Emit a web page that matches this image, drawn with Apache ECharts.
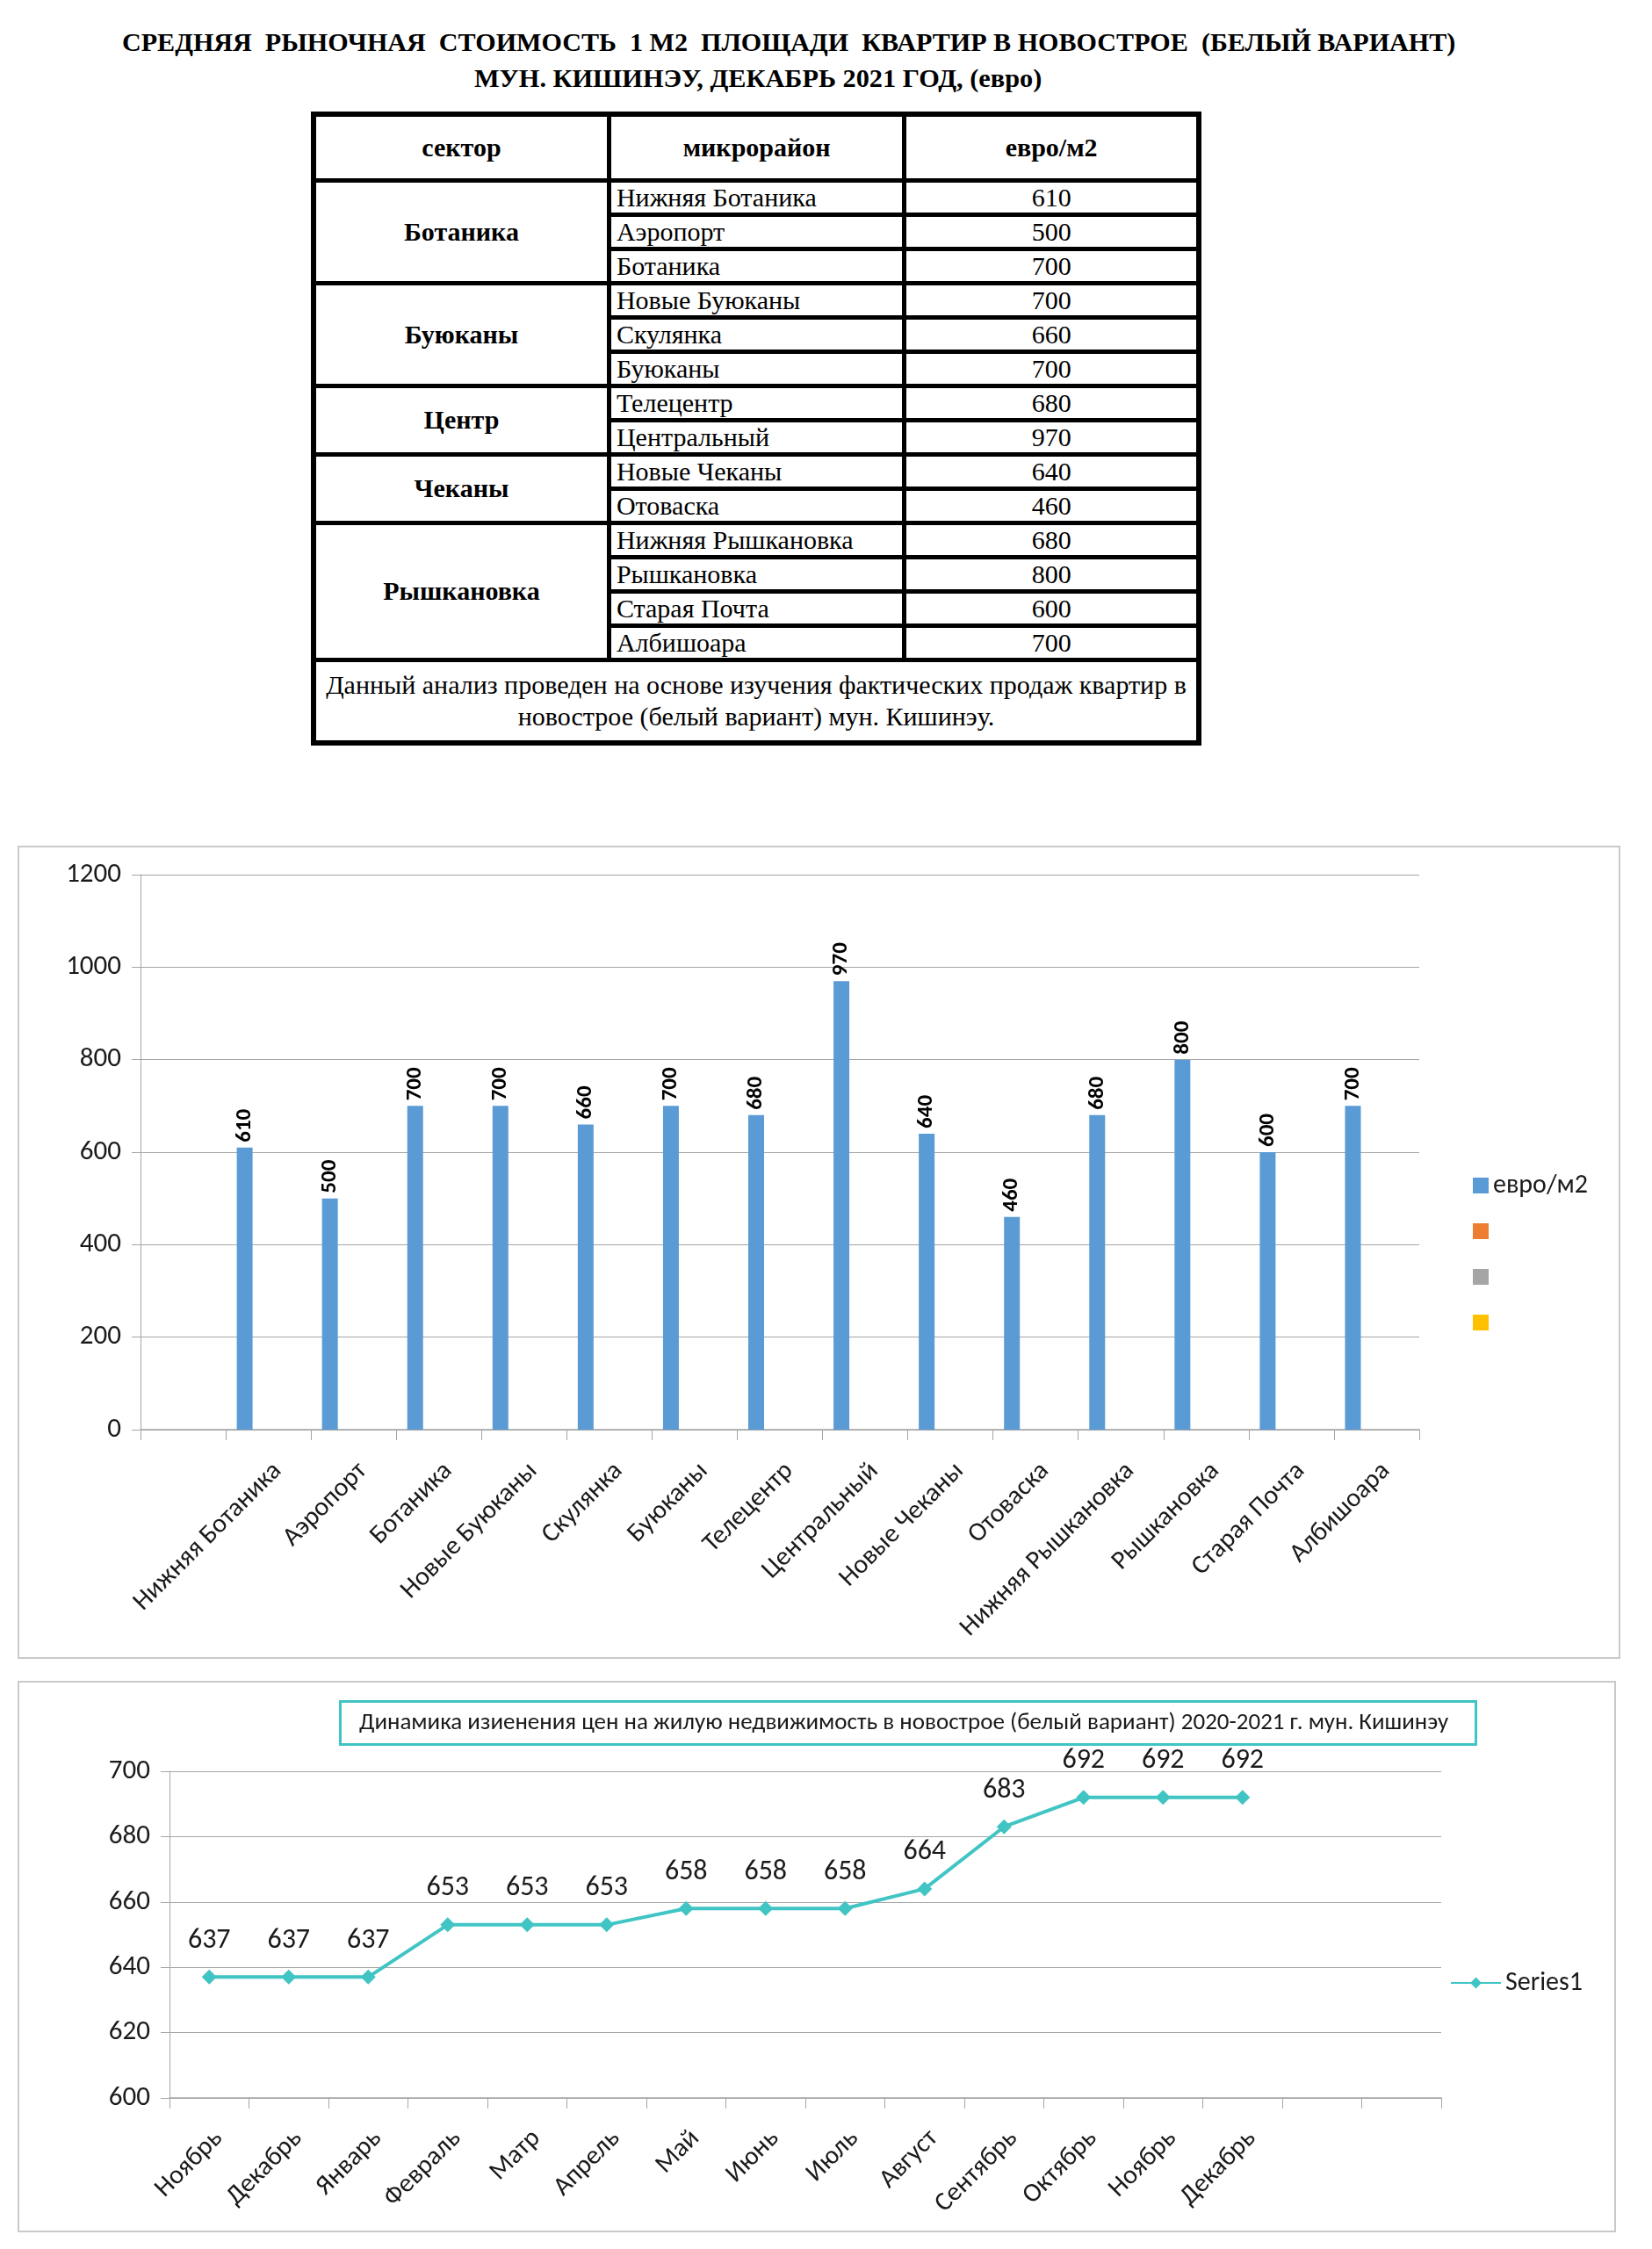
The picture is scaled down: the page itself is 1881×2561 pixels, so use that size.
<!DOCTYPE html>
<html><head><meta charset="utf-8">
<script src="https://cdn.jsdelivr.net/npm/echarts@6/dist/echarts.min.js"></script>
<style>
html,body{margin:0;padding:0;background:#fff;}
body{width:1881px;height:2561px;position:relative;overflow:hidden;}
.ttl{position:absolute;font-family:'Liberation Serif','DejaVu Serif',serif;font-weight:bold;font-size:30.3px;white-space:pre;color:#000;line-height:34px;}
#t1{left:139px;top:31px;font-size:30.1px;}
#t2{left:540px;top:72px;}
#tbl{position:absolute;left:354px;top:127px;width:1014px;border-collapse:collapse;font-family:'Liberation Serif','DejaVu Serif',serif;font-size:30px;color:#000;border:6px solid #000;}
#tbl td{border:5px solid #000;padding:0 6px;line-height:30px;}
#tbl td.c{text-align:center;}
#tbl td.b{font-weight:bold;text-align:center;}
#tbl td.l{text-align:left;}
#tbl td.n{text-align:center;line-height:36px;}
.chart{position:absolute;border:2px solid #C9C9C9;box-sizing:border-box;}
#bar{left:20px;top:963px;width:1825px;height:926px;}
#line{left:20px;top:1914px;width:1820px;height:628px;}
</style>
</head><body>
<div class="ttl" id="t1"></div>
<div class="ttl" id="t2"></div>
<table id="tbl"></table>
<div class="chart" id="bar"></div>
<div class="chart" id="line"></div>
<script>
// ---- data ----
const titleLine1 = 'СРЕДНЯЯ  РЫНОЧНАЯ  СТОИМОСТЬ  1 М2  ПЛОЩАДИ  КВАРТИР В НОВОСТРОЕ  (БЕЛЫЙ ВАРИАНТ)';
const titleLine2 = 'МУН. КИШИНЭУ, ДЕКАБРЬ 2021 ГОД, (евро)';
const tableHeader = ['сектор', 'микрорайон', 'евро/м2'];
const sectorNames = ['Ботаника', 'Буюканы', 'Центр', 'Чеканы', 'Рышкановка'];
const sectorSizes = [3, 3, 2, 2, 4];
const districts = ['Нижняя Ботаника', 'Аэропорт', 'Ботаника', 'Новые Буюканы', 'Скулянка', 'Буюканы', 'Телецентр', 'Центральный', 'Новые Чеканы', 'Отоваска', 'Нижняя Рышкановка', 'Рышкановка', 'Старая Почта', 'Албишоара'];
const prices = [610, 500, 700, 700, 660, 700, 680, 970, 640, 460, 680, 800, 600, 700];
const tableNote = ['Данный анализ проведен на основе изучения фактических продаж квартир в', 'новострое (белый вариант)  мун. Кишинэу.'];

const barCategories = [''].concat(districts);
const barValues = ['-'].concat(prices);
const barLegend = ['евро/м2', 'Ряд2', 'Ряд3', 'Ряд4'];
const barColors = ['#5B9BD5', '#ED7D31', '#A5A5A5', '#FFC000'];

const lineTitle = 'Динамика изиенения цен на жилую недвижимость в новострое (белый вариант) 2020-2021 г. мун. Кишинэу';
const months = ['Ноябрь', 'Декабрь', 'Январь', 'Февраль', 'Матр', 'Апрель', 'Май', 'Июнь', 'Июль', 'Август', 'Сентябрь', 'Октябрь', 'Ноябрь', 'Декабрь', '', ''];
const lineValues = [637, 637, 637, 653, 653, 653, 658, 658, 658, 664, 683, 692, 692, 692];
const lineName = 'Series1';

// ---- title & table ----
document.getElementById('t1').textContent = titleLine1;
document.getElementById('t2').textContent = titleLine2;
const tbl = document.getElementById('tbl');
let html = '<colgroup><col style="width:338px"><col style="width:338px"><col style="width:338px"></colgroup>';
html += '<tr style="height:75px">' + tableHeader.map(h => '<td class="b">' + h + '</td>').join('') + '</tr>';
let k = 0;
sectorNames.forEach((s, si) => {
  for (let i = 0; i < sectorSizes[si]; i++) {
    html += '<tr style="height:39px">';
    if (i === 0) html += '<td class="b" rowspan="' + sectorSizes[si] + '">' + s + '</td>';
    html += '<td class="l">' + districts[k] + '</td><td class="c">' + prices[k] + '</td></tr>';
    k++;
  }
});
html += '<tr style="height:95px"><td class="n" colspan="3">' + tableNote.join('<br>') + '</td></tr>';
tbl.innerHTML = html;

// ---- charts ----
const F = "Carlito, Lato, 'Open Sans', sans-serif";
const AX = '#A6A6A6';
const TXT = '#1a1a1a';
const plain = v => String(v);

const bar = echarts.init(document.getElementById('bar'));
bar.setOption({
  animation: false,
  textStyle: { fontFamily: F },
  grid: { left: 138, right: 227, top: 31, bottom: 259, containLabel: false },
  legend: {
    orient: 'vertical', left: 1650, top: 363, itemWidth: 18, itemHeight: 18, itemGap: 18, icon: 'rect',
    data: barLegend, formatter: n => (n === barLegend[0] ? n : ' '),
    textStyle: { fontSize: 30, lineHeight: 34, color: TXT, fontFamily: F }
  },
  xAxis: {
    type: 'category', data: barCategories,
    axisLine: { lineStyle: { color: AX, width: 1.5 } },
    axisTick: { show: true, length: 12, lineStyle: { color: AX } },
    axisLabel: { rotate: 45, interval: 0, fontSize: 30, color: TXT, margin: 32, verticalAlign: 'top', fontFamily: F }
  },
  yAxis: {
    type: 'value', min: 0, max: 1200, interval: 200,
    axisLine: { show: true, lineStyle: { color: AX } },
    axisTick: { show: true, length: 10, lineStyle: { color: AX } },
    splitLine: { lineStyle: { color: AX, width: 1.2 } },
    axisLabel: { fontSize: 31, color: TXT, margin: 22, fontFamily: F, formatter: plain }
  },
  series: barLegend.map((n, i) => ({
    type: 'bar', name: n, data: i === 0 ? barValues : [], barWidth: 18, barGap: '0%',
    itemStyle: { color: barColors[i] },
    label: i === 0 ? { show: true, position: 'top', rotate: 90, align: 'left', verticalAlign: 'middle', distance: 6,
      fontWeight: 'bold', fontSize: 25, color: '#000', fontFamily: F } : { show: false }
  }))
});

const LC = '#40C4C4';
const line = echarts.init(document.getElementById('line'));
line.setOption({
  animation: false,
  textStyle: { fontFamily: F },
  title: {
    text: lineTitle, left: 365, top: 21, padding: [11, 31, 11, 22],
    borderColor: LC, borderWidth: 3,
    textStyle: { fontSize: 27, lineHeight: 28, fontWeight: 'normal', color: TXT, fontFamily: F }
  },
  grid: { left: 171, right: 197, top: 101, bottom: 151 },
  legend: {
    left: 1624, top: 322, itemWidth: 57, itemHeight: 16, data: [lineName],
    textStyle: { fontSize: 30, color: TXT, fontFamily: F }
  },
  xAxis: {
    type: 'category', data: months,
    axisLine: { lineStyle: { color: AX, width: 1.5 } },
    axisTick: { show: true, length: 12, interval: 0, lineStyle: { color: AX } },
    axisLabel: { rotate: 45, interval: 0, fontSize: 30, color: TXT, margin: 31, verticalAlign: 'top', fontFamily: F }
  },
  yAxis: {
    type: 'value', min: 600, max: 700, interval: 20,
    axisLine: { show: true, lineStyle: { color: AX } },
    axisTick: { show: true, length: 10, lineStyle: { color: AX } },
    splitLine: { lineStyle: { color: AX, width: 1.2 } },
    axisLabel: { fontSize: 31, color: TXT, margin: 22, fontFamily: F, formatter: plain }
  },
  series: [{
    type: 'line', name: lineName, data: lineValues, symbol: 'diamond', symbolSize: 17,
    lineStyle: { width: 4, color: LC }, itemStyle: { color: LC },
    label: { show: true, position: 'top', distance: 17, fontSize: 32, color: TXT, fontFamily: F }
  }]
});
</script>
</body></html>
